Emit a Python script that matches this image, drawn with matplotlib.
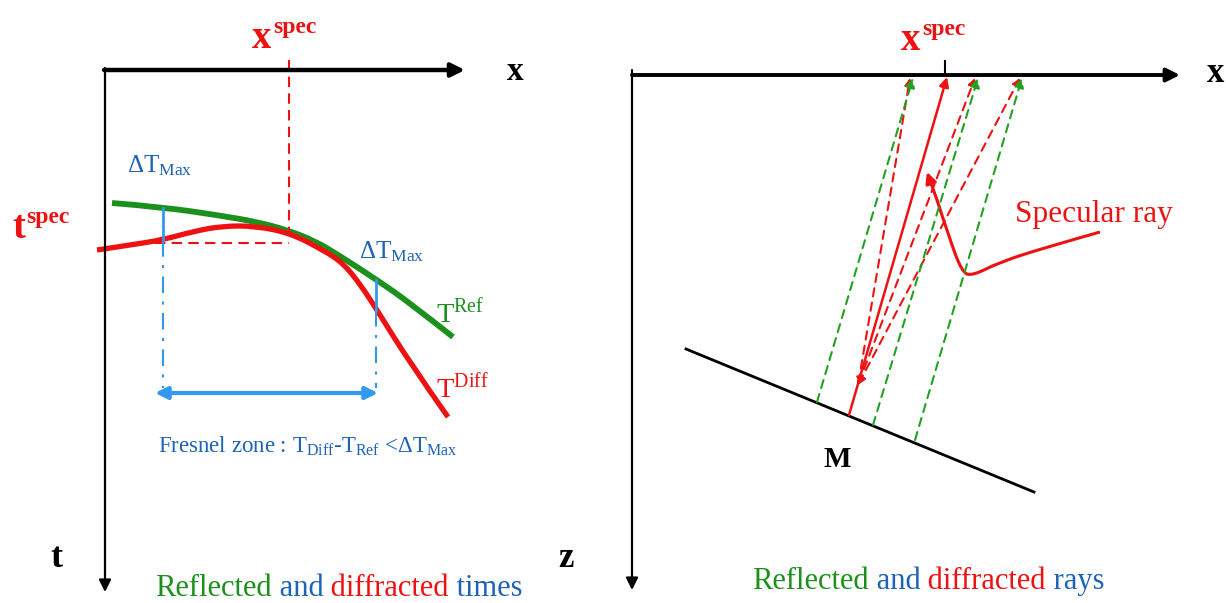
import matplotlib
matplotlib.use("Agg")
import matplotlib.pyplot as plt
from matplotlib.path import Path
from matplotlib.patches import PathPatch

plt.rcParams['font.family'] = ['Liberation Serif', 'DejaVu Serif']
plt.rcParams['mathtext.fontset'] = 'custom'
plt.rcParams['mathtext.rm'] = 'Liberation Serif'
plt.rcParams['mathtext.it'] = 'Liberation Serif:italic'
plt.rcParams['mathtext.bf'] = 'Liberation Serif:weight=bold'

RED = '#ee1111'
GREEN = '#1c901c'
GREEN_D = '#22a022'
BLUE_L = '#3399ee'
BLUE_T = '#1f63b8'

# ---- left panel: travel-time curves (x, t in picture units) ----
ref_x = [112, 162, 223, 257, 287, 315, 340, 377, 410, 453]
ref_t = [203, 207, 216, 222, 230, 241, 256, 280, 303, 337]
diff_x = [97, 130, 162, 195, 223, 255, 290, 323, 343, 360, 377, 410, 448]
diff_t = [250, 245, 240, 231, 226, 226, 233, 250, 263, 284, 310, 363, 417]

x_spec_left = 289
t_spec = 243
fresnel_left = 163
fresnel_right = 376
fresnel_top = [208, 280]      # where the short dT_max markers start (on T_ref)
fresnel_mid = [240, 310]      # where they hit T_diff
fresnel_arrow_t = 393

# ---- right panel: rays ----
surface_z = 75
x_spec_right = 945
refl_top = [913, 978, 1022]
refl_bottom = [(817, 402), (873, 425), (915, 440)]
diff_top = [910, 975, 1020]
diff_point = (858, 385)
spec_bottom = (849, 415)
reflector_x = [686, 1034]
reflector_z = [349, 492]
pointer_x = [1100, 1047, 1000, 972, 962, 950, 937, 927]
pointer_z = [232, 247, 262, 276, 272, 240, 200, 172]

fig = plt.figure(figsize=(12.26, 6.03), dpi=100)
ax = fig.add_axes([0, 0, 1, 1])
ax.set_xlim(0, 1226)
ax.set_ylim(603, 0)
ax.axis('off')


def arrow(p0, p1, color='k', lw=2, style='-|>', ms=18, ls='-'):
    ax.annotate('', xy=p1, xytext=p0,
                arrowprops=dict(arrowstyle=style, color=color, lw=lw, ls=ls,
                                mutation_scale=ms, shrinkA=0, shrinkB=0))


def smooth_curve(xs, ys, **kw):
    # quadratic bezier through the midpoints of the read points
    pts = list(zip(xs, ys))
    verts = [pts[0]]
    codes = [Path.MOVETO]
    for i in range(1, len(pts) - 1):
        mid = ((pts[i][0] + pts[i + 1][0]) / 2, (pts[i][1] + pts[i + 1][1]) / 2)
        if i == len(pts) - 2:
            mid = pts[-1]
        verts += [pts[i], mid]
        codes += [Path.CURVE3, Path.CURVE3]
    ax.add_patch(PathPatch(Path(verts, codes), fill=False, **kw))


def spec_label(x, y, base):
    t = ax.text(x, y, base, color=RED, fontsize=28, fontweight='bold', va='baseline')
    ax.annotate('spec', xy=(1, 0), xycoords=t, xytext=(1, 14), textcoords='offset points',
                color=RED, fontsize=17, fontweight='bold', va='bottom', ha='left')


# left axes
arrow((104, 70), (465, 70), lw=3.2, ms=20)
arrow((105, 68), (105, 592), lw=1.6, ms=18)
ax.text(507, 80, 'x', fontsize=24, fontweight='bold', ha='left', va='baseline')
ax.text(50, 567, 't', fontsize=26, fontweight='bold', ha='left', va='baseline')

# spec guides
ax.plot([x_spec_left, x_spec_left], [60, 232], color=RED, lw=1.5, ls=(0, (5, 3)))
ax.plot([155, x_spec_left], [t_spec, t_spec], color=RED, lw=1.5, ls=(0, (5, 3)))
spec_label(252, 48, 'x')
spec_label(12, 238, 't')

# curves
smooth_curve(ref_x, ref_t, edgecolor=GREEN, lw=4.2, capstyle='butt')
smooth_curve(diff_x, diff_t, edgecolor=RED, lw=3.8, capstyle='butt')

# Fresnel zone markers
for xf, t0, t1 in zip([fresnel_left, fresnel_right], fresnel_top, fresnel_mid):
    ax.plot([xf, xf], [t0, t1], color=BLUE_L, lw=2)
    ax.plot([xf, xf], [t1, fresnel_arrow_t - 5], color=BLUE_L, lw=1.5, ls=(0, (8, 4, 1.5, 4)))
arrow((155, fresnel_arrow_t), (378, fresnel_arrow_t), color=BLUE_L, lw=3, style='<|-|>', ms=18)

ax.text(127, 172, r'$\mathrm{\Delta T_{Max}}$', color=BLUE_T, fontsize=18, va='baseline')
ax.text(359, 258, r'$\mathrm{\Delta T_{Max}}$', color=BLUE_T, fontsize=18, va='baseline')
ax.text(436, 322, r'$\mathrm{T^{Ref}}$', color=GREEN, fontsize=20.5, va='baseline')
ax.text(436, 397, r'$\mathrm{T^{Diff}}$', color=RED, fontsize=20.5, va='baseline')
ax.text(158, 453, r'Fresnel zone : $\mathrm{T_{Diff}}$-$\mathrm{T_{Ref}}$ <$\mathrm{\Delta T_{Max}}$',
        color=BLUE_T, fontsize=16.5, va='baseline')

# right axes
arrow((632, surface_z), (1180, surface_z), lw=2.8, ms=20)
arrow((632, 70), (632, 590), lw=1.6, ms=18)
ax.plot([x_spec_right, x_spec_right], [61, surface_z], color='k', lw=1.5)
ax.text(1207, 82, 'x', fontsize=25, fontweight='bold', ha='left', va='baseline')
ax.text(558, 567, 'z', fontsize=25, fontweight='bold', ha='left', va='baseline')
spec_label(901, 50, 'x')

# reflector
ax.plot(reflector_x, reflector_z, color='k', lw=2)
ax.text(823, 467, 'M', fontsize=21, fontweight='bold', va='baseline')

# diffracted rays (red dashed) and reflected rays (green dashed)
for xt in diff_top:
    arrow(diff_point, (xt, surface_z + 3), color=RED, lw=1.5, style='<|-|>', ms=11, ls=(0, (4, 3)))
for xt, pb in zip(refl_top, refl_bottom):
    arrow(pb, (xt, surface_z + 3), color=GREEN_D, lw=1.5, style='-|>', ms=14, ls=(0, (4, 3)))

# specular ray
arrow(spec_bottom, (x_spec_right + 2, surface_z + 2), color=RED, lw=1.8, ms=14)

# pointer to specular ray
smooth_curve(pointer_x[:-1], pointer_z[:-1], edgecolor=RED, lw=2.2)
arrow((pointer_x[-2], pointer_z[-2]), (pointer_x[-1], pointer_z[-1]), color=RED, lw=2.2, ms=16)
ax.text(1015, 222, 'Specular ray', color=RED, fontsize=22.5, va='baseline')


def colored_words(x, y, words, colors, size):
    t = ax.text(x, y, words[0], color=colors[0], fontsize=size, va='bottom')
    for w, c in zip(words[1:], colors[1:]):
        t = ax.annotate(' ' + w, xy=(1, 0), xycoords=t, color=c,
                        fontsize=size, va='bottom', ha='left')


caption_left = ['Reflected', 'and', 'diffracted', 'times']
caption_right = ['Reflected', 'and', 'diffracted', 'rays']
caption_colors = [GREEN, BLUE_T, RED, BLUE_T]
colored_words(155, 603, caption_left, caption_colors, 22)
colored_words(752, 596, caption_right, caption_colors, 22)

fig.savefig('out.png', dpi=100)
